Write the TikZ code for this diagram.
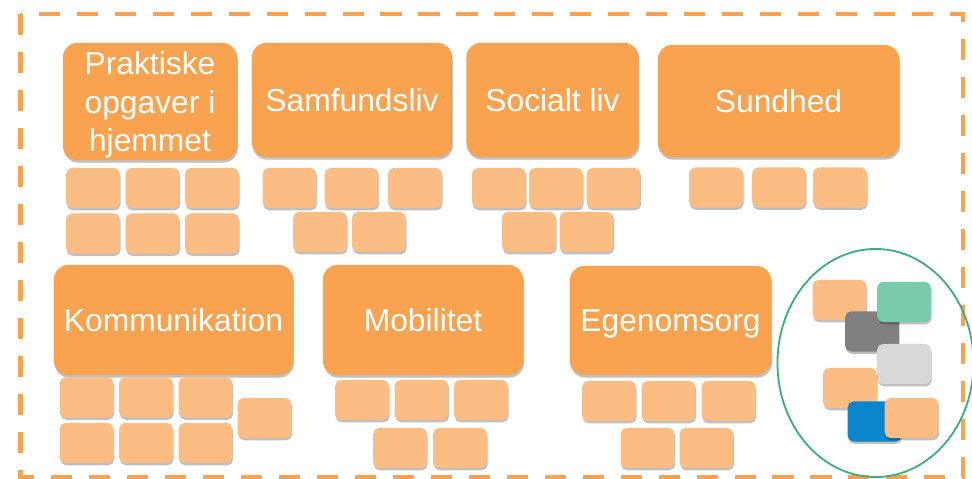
\documentclass[tikz,border=0pt]{standalone}
\usepackage{fontspec}
\setmainfont{Liberation Sans}
\usetikzlibrary{shapes.geometric, shadows}

\definecolor{areaorange}{HTML}{F9A351}
\definecolor{itemorange}{HTML}{FBBD84}
\definecolor{ringgreen}{HTML}{3FAE7C}
\definecolor{itemgreen}{HTML}{7ACBA9}
\definecolor{itemdark}{HTML}{7F7F7F}
\definecolor{itemlight}{HTML}{D9D9D9}
\definecolor{itemblue}{HTML}{0A84CC}

\begin{document}
\begin{tikzpicture}[x=0.025cm, y=-0.025cm]
    % Define styles
    \tikzset{
        areabox/.style={fill=areaorange, rounded corners=10pt, inner sep=0pt, align=center, text=white,
            text depth=0pt, font=\fontsize{22.6}{27.5}\selectfont,
            drop shadow={shadow xshift=0.6pt, shadow yshift=-1.8pt, opacity=0.25, fill=black}},
        itembox/.style={fill=itemorange, rounded corners=4pt, minimum width=1.34cm, minimum height=1cm,
            drop shadow={shadow xshift=0.5pt, shadow yshift=-1.6pt, opacity=0.25, fill=black}},
        framebox/.style={draw=areaorange, line width=3pt, dash pattern=on 15pt off 12pt},
        ringbox/.style={draw=ringgreen, line width=1.3pt, ellipse, minimum width=4.9cm, minimum height=5.7cm}
    }
    \useasboundingbox (0,0) rectangle (972,479);

    % Dashed frame
    \draw[framebox] (20.5,14) rectangle (963,477);

    % Areas, top row
    \node[areabox, minimum width=4.35cm, minimum height=2.925cm] (prak) at (150,101.5) {Praktiske\\opgaver i\\hjemmet};
    \node[areabox, minimum width=5cm, minimum height=2.85cm] (samf) at (352,100) {Samfundsliv};
    \node[areabox, minimum width=4.3cm, minimum height=2.85cm] (soc) at (552.5,100) {Socialt liv};
    \node[areabox, minimum width=6.03cm, minimum height=2.8cm] (sund) at (778.5,101) {Sundhed};

    % Areas, bottom row
    \node[areabox, minimum width=5.975cm, minimum height=2.75cm] (komm) at (173.5,320) {Kommunikation};
    \node[areabox, minimum width=5cm, minimum height=2.75cm] (mob) at (423,320) {Mobilitet};
    \node[areabox, minimum width=5.025cm, minimum height=2.725cm] (ego) at (670.5,320.5) {Egenomsorg};

    % Items under Praktiske opgaver i hjemmet
    \node[itembox] (prak1) at (93,188) {};
    \node[itembox] (prak2) at (152.5,188) {};
    \node[itembox] (prak3) at (212,188) {};
    \node[itembox] (prak4) at (93,233.5) {};
    \node[itembox] (prak5) at (152.5,233.5) {};
    \node[itembox] (prak6) at (212,233.5) {};

    % Items under Samfundsliv
    \node[itembox] (samf1) at (289.5,188) {};
    \node[itembox] (samf2) at (351.5,188) {};
    \node[itembox] (samf3) at (415,188) {};
    \node[itembox] (samf4) at (320,232) {};
    \node[itembox] (samf5) at (379,232) {};

    % Items under Socialt liv
    \node[itembox] (soc1) at (499,188) {};
    \node[itembox] (soc2) at (556,188) {};
    \node[itembox] (soc3) at (613.5,188) {};
    \node[itembox] (soc4) at (529,232) {};
    \node[itembox] (soc5) at (586.5,232) {};

    % Items under Sundhed
    \node[itembox] (sund1) at (716,187.5) {};
    \node[itembox] (sund2) at (779,187.5) {};
    \node[itembox] (sund3) at (840,187.5) {};

    % Items under Kommunikation
    \node[itembox] (komm1) at (86.5,397.5) {};
    \node[itembox] (komm2) at (146,397.5) {};
    \node[itembox] (komm3) at (205.5,397.5) {};
    \node[itembox] (komm4) at (86.5,443) {};
    \node[itembox] (komm5) at (146,443) {};
    \node[itembox] (komm6) at (205.5,443) {};
    \node[itembox] (komm7) at (264.5,418) {};

    % Items under Mobilitet
    \node[itembox] (mob1) at (362,400) {};
    \node[itembox] (mob2) at (421.5,400) {};
    \node[itembox] (mob3) at (481,400) {};
    \node[itembox] (mob4) at (400,448) {};
    \node[itembox] (mob5) at (460,448) {};

    % Items under Egenomsorg
    \node[itembox] (ego1) at (609,401) {};
    \node[itembox] (ego2) at (668.5,401) {};
    \node[itembox] (ego3) at (728.5,401) {};
    \node[itembox] (ego4) at (647.5,448) {};
    \node[itembox] (ego5) at (706.5,448) {};

    % Ring with mixed items
    \node[ringbox] (ring) at (875.5,363) {};
    \node[itembox] (mix1) at (839.5,300) {};
    \node[itembox, fill=itemdark] (mix2) at (872,331.5) {};
    \node[itembox, fill=itemgreen] (mix3) at (904,302) {};
    \node[itembox, fill=itemlight] (mix4) at (904,364) {};
    \node[itembox] (mix5) at (850,388) {};
    \node[itembox, fill=itemblue] (mix6) at (874.5,421.5) {};
    \node[itembox] (mix7) at (911.5,418) {};

\end{tikzpicture}
\end{document}
